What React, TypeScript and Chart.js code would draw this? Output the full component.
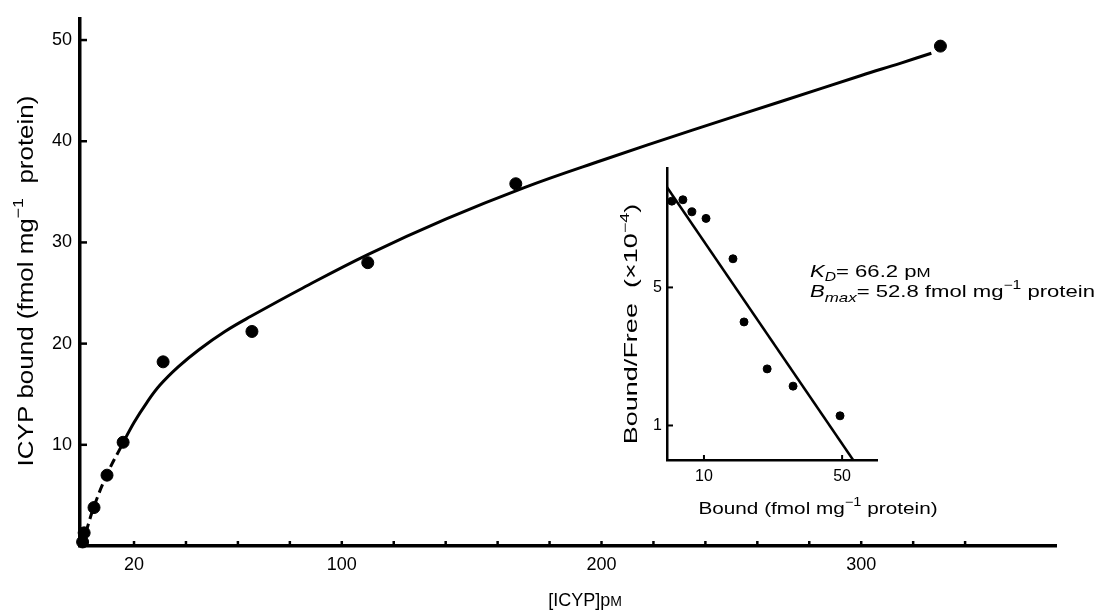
import React, { useEffect, useRef } from 'react';
import { Chart, registerables } from 'chart.js';

Chart.register(...registerables);

// ---- main saturation plot data ----
const concX = [0.2, 0.8, 4.6, 9.6, 15.8, 31.2, 65.4, 110, 167, 330.5];
const boundY = [0.4, 1.3, 3.8, 7.0, 10.25, 18.2, 21.2, 28.0, 35.8, 49.4];
const curveX = [0, 2, 5, 10, 15, 20, 25, 30, 37, 45, 55, 65, 85, 110, 140, 170, 200, 235, 270, 300, 315, 327];
const curveY = [0, 1.8, 4.2, 7.3, 9.8, 12.2, 14.2, 15.9, 17.7, 19.4, 21.2, 22.7, 25.5, 28.8, 32.3, 35.4, 38.1, 41.1, 44.0, 46.5, 47.7, 48.7];
const xTickMarks = [20, 40, 60, 80, 100, 120, 140, 160, 180, 200, 220, 240, 260, 280, 300, 320, 340];
const xTickLabels = [20, 100, 200, 300];
const yTickMarks = [10, 20, 30, 40, 50];

// ---- Scatchard inset data ----
const scatX = [0.7, 3.9, 6.5, 10.6, 18.4, 21.6, 28.3, 35.8, 49.4];
const scatY = [7.5, 7.54, 7.19, 7.0, 5.83, 4.0, 2.64, 2.14, 1.28];
const scatLineX = [-0.7, 53.2];
const scatLineY = [7.9, 0];
const insetXTicks = [10, 50];
const insetYTicks = [1, 5];

const FAMILY = "'Liberation Sans', Arial, Helvetica, sans-serif";
const INK = '#000';

type Run = { t: string; size: number; dy?: number; italic?: boolean };

function drawRich(
  ctx: CanvasRenderingContext2D,
  runs: Run[],
  x: number,
  y: number,
  opts: { align?: 'left' | 'center'; rotate?: boolean; sx?: number } = {}
) {
  const { align = 'left', rotate = false, sx = 1 } = opts;
  ctx.save();
  ctx.translate(x, y);
  if (rotate) ctx.rotate(-Math.PI / 2);
  ctx.scale(sx, 1);
  const fontOf = (r: Run) => `${r.italic ? 'italic ' : ''}${r.size}px ${FAMILY}`;
  const widths = runs.map((r) => {
    ctx.font = fontOf(r);
    return ctx.measureText(r.t).width;
  });
  const total = widths.reduce((a, b) => a + b, 0);
  let cx = align === 'center' ? -total / 2 : 0;
  ctx.fillStyle = INK;
  ctx.textBaseline = 'alphabetic';
  ctx.textAlign = 'left';
  runs.forEach((r, i) => {
    ctx.font = fontOf(r);
    ctx.fillText(r.t, cx, r.dy || 0);
    cx += widths[i];
  });
  ctx.restore();
}

const mainDecor = {
  id: 'mainDecor',
  afterDraw(chart: any) {
    const ctx: CanvasRenderingContext2D = chart.ctx;
    const xs = chart.scales.x;
    const ys = chart.scales.y;
    const { left, bottom } = chart.chartArea;
    ctx.save();
    ctx.strokeStyle = INK;
    ctx.lineWidth = 2.5;
    xTickMarks.forEach((v) => {
      const px = xs.getPixelForValue(v);
      ctx.beginPath();
      ctx.moveTo(px, bottom);
      ctx.lineTo(px, bottom - 5);
      ctx.stroke();
    });
    yTickMarks.forEach((v) => {
      const py = ys.getPixelForValue(v);
      ctx.beginPath();
      ctx.moveTo(left, py);
      ctx.lineTo(left + 7, py);
      ctx.stroke();
    });
    ctx.restore();

    drawRich(
      ctx,
      [
        { t: 'ICYP bound (fmol mg', size: 22 },
        { t: '−1', size: 15, dy: -10 },
        { t: '  protein)', size: 22 },
      ],
      33,
      281,
      { align: 'center', rotate: true, sx: 1.18 }
    );
    drawRich(ctx, [{ t: '[ICYP]p', size: 18 }, { t: 'M', size: 14 }], 585, 606, { align: 'center' });
    drawRich(
      ctx,
      [
        { t: 'K', size: 17, italic: true },
        { t: 'D', size: 12, italic: true, dy: 4 },
        { t: '= 66.2 p', size: 17 },
        { t: 'M', size: 13 },
      ],
      810,
      277,
      { sx: 1.3 }
    );
    drawRich(
      ctx,
      [
        { t: 'B', size: 17, italic: true },
        { t: 'max', size: 13, italic: true, dy: 5 },
        { t: '= 52.8 fmol mg', size: 17 },
        { t: '−1', size: 12, dy: -8 },
        { t: ' protein', size: 17 },
      ],
      810,
      297,
      { sx: 1.3 }
    );
  },
};

const insetDecor = {
  id: 'insetDecor',
  afterDraw(chart: any) {
    const ctx: CanvasRenderingContext2D = chart.ctx;
    const xs = chart.scales.x;
    const ys = chart.scales.y;
    const { left, bottom } = chart.chartArea;
    ctx.save();
    ctx.strokeStyle = INK;
    ctx.lineWidth = 2;
    insetXTicks.forEach((v) => {
      const px = xs.getPixelForValue(v);
      ctx.beginPath();
      ctx.moveTo(px, bottom);
      ctx.lineTo(px, bottom - 5);
      ctx.stroke();
    });
    insetYTicks.forEach((v) => {
      const py = ys.getPixelForValue(v);
      ctx.beginPath();
      ctx.moveTo(left, py);
      ctx.lineTo(left + 6, py);
      ctx.stroke();
    });
    ctx.restore();
    drawRich(
      ctx,
      [
        { t: 'Bound/Free  (×10', size: 18 },
        { t: '−4', size: 12, dy: -8 },
        { t: ')', size: 18 },
      ],
      37,
      174,
      { align: 'center', rotate: true, sx: 1.5 }
    );
    drawRich(
      ctx,
      [
        { t: 'Bound (fmol mg', size: 17 },
        { t: '−1', size: 12, dy: -8 },
        { t: ' protein)', size: 17 },
      ],
      218,
      364,
      { align: 'center', sx: 1.22 }
    );
  },
};

export default function App() {
  const mainRef = useRef<HTMLCanvasElement>(null);
  const insetRef = useRef<HTMLCanvasElement>(null);

  useEffect(() => {
    const pts = concX.map((x, i) => ({ x, y: boundY[i] }));
    const curve = curveX.map((x, i) => ({ x, y: curveY[i] }));
    const main = new Chart(mainRef.current as HTMLCanvasElement, {
      type: 'scatter',
      data: {
        datasets: [
          {
            type: 'line',
            data: curve,
            borderColor: INK,
            borderWidth: 3,
            pointRadius: 0,
            tension: 0.4,
            fill: false,
            clip: false,
            segment: {
              borderDash: (c: any) => (c.p1.parsed.x <= 15 ? [9, 5] : undefined),
            },
          } as any,
          {
            data: pts,
            backgroundColor: INK,
            borderColor: INK,
            pointRadius: 6,
            clip: false,
          } as any,
        ],
      },
      options: {
        animation: false,
        responsive: false,
        devicePixelRatio: 1,
        layout: { padding: { top: 7, right: 44, left: 0, bottom: 0 } },
        plugins: { legend: { display: false }, tooltip: { enabled: false } },
        scales: {
          x: {
            type: 'linear',
            min: -0.8,
            max: 375,
            grid: { display: false, drawTicks: false },
            border: { display: true, color: INK, width: 3.5 },
            afterBuildTicks: (s: any) => {
              s.ticks = xTickLabels.map((v) => ({ value: v }));
            },
            afterFit: (s: any) => {
              s.height = 65;
            },
            ticks: {
              color: INK,
              padding: 8,
              font: { family: FAMILY, size: 18 },
              maxRotation: 0,
              autoSkip: false,
              callback: (v: any) => String(v),
            },
          },
          y: {
            type: 'linear',
            min: 0,
            max: 52.1,
            grid: { display: false, drawTicks: false },
            border: { display: true, color: INK, width: 3.5 },
            afterBuildTicks: (s: any) => {
              s.ticks = yTickMarks.map((v) => ({ value: v }));
            },
            afterFit: (s: any) => {
              s.width = 80;
            },
            ticks: {
              color: INK,
              padding: 8,
              font: { family: FAMILY, size: 18 },
              callback: (v: any) => String(v),
            },
          },
        },
      },
      plugins: [mainDecor],
    });

    const spts = scatX.map((x, i) => ({ x, y: scatY[i] }));
    const sline = scatLineX.map((x, i) => ({ x, y: scatLineY[i] }));
    const inset = new Chart(insetRef.current as HTMLCanvasElement, {
      type: 'scatter',
      data: {
        datasets: [
          {
            type: 'line',
            data: sline,
            borderColor: INK,
            borderWidth: 2.5,
            pointRadius: 0,
            fill: false,
            clip: false,
          } as any,
          {
            data: spts,
            backgroundColor: INK,
            borderColor: INK,
            pointRadius: 4,
            clip: false,
          } as any,
        ],
      },
      options: {
        animation: false,
        responsive: false,
        devicePixelRatio: 1,
        layout: { padding: { top: 18, right: 83, left: 0, bottom: 0 } },
        plugins: { legend: { display: false }, tooltip: { enabled: false } },
        scales: {
          x: {
            type: 'linear',
            min: -0.7,
            max: 60.1,
            grid: { display: false, drawTicks: false },
            border: { display: true, color: INK, width: 2.5 },
            afterBuildTicks: (s: any) => {
              s.ticks = insetXTicks.map((v) => ({ value: v }));
            },
            afterFit: (s: any) => {
              s.height = 70;
            },
            ticks: {
              color: INK,
              padding: 7,
              font: { family: FAMILY, size: 16 },
              maxRotation: 0,
              autoSkip: false,
              callback: (v: any) => String(v),
            },
          },
          y: {
            type: 'linear',
            min: 0,
            max: 8.46,
            grid: { display: false, drawTicks: false },
            border: { display: true, color: INK, width: 2.5 },
            afterBuildTicks: (s: any) => {
              s.ticks = insetYTicks.map((v) => ({ value: v }));
            },
            afterFit: (s: any) => {
              s.width = 67;
            },
            ticks: {
              color: INK,
              padding: 5,
              font: { family: FAMILY, size: 16 },
              callback: (v: any) => String(v),
            },
          },
        },
      },
      plugins: [insetDecor],
    });

    return () => {
      main.destroy();
      inset.destroy();
    };
  }, []);

  return (
    <div style={{ position: 'absolute', left: 0, top: 0, width: 1100, height: 611, background: '#fff' }}>
      <canvas
        ref={mainRef}
        width={1100}
        height={611}
        style={{ position: 'absolute', left: 0, top: 0, width: 1100, height: 611 }}
      />
      <canvas
        ref={insetRef}
        width={360}
        height={380}
        style={{ position: 'absolute', left: 600, top: 150, width: 360, height: 380 }}
      />
    </div>
  );
}
